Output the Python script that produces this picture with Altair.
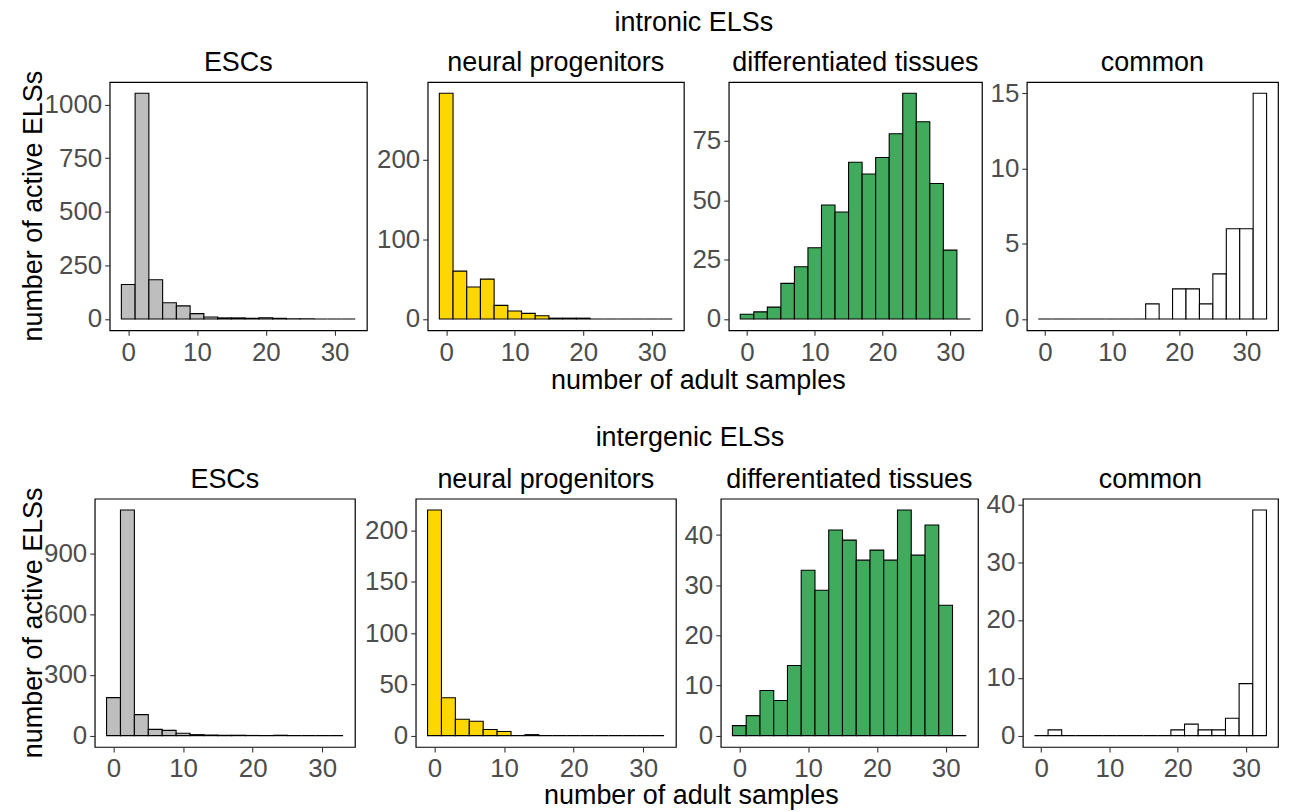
import altair as alt
import pandas as pd

# histogram bins (width 2)
bin_left = [-1, 1, 3, 5, 7, 9, 11, 13, 15, 17, 19, 21, 23, 25, 27, 29, 31]
bin_right = [1, 3, 5, 7, 9, 11, 13, 15, 17, 19, 21, 23, 25, 27, 29, 31, 33]

panel_titles = ["ESCs", "neural progenitors", "differentiated tissues", "common"]
panel_colors = ["#BEBEBE", "#FFD700", "#41AB5D", "#FFFFFF"]
row_titles = ["intronic ELSs", "intergenic ELSs"]
x_title = "number of adult samples"
y_title = "number of active ELSs"

intronic_esc = [161, 1053, 183, 76, 61, 25, 9, 5, 5, 3, 6, 3, 1, 1, 0, 0, 0]
intronic_np = [283, 60, 40, 50, 17, 10, 7, 4, 1, 1, 1, 0, 0, 0, 0, 0, 0]
intronic_dt = [2, 3, 5, 15, 22, 30, 48, 45, 66, 61, 68, 78, 95, 83, 57, 29, 0]
intronic_common = [0, 0, 0, 0, 0, 0, 0, 0, 1, 0, 2, 2, 1, 3, 6, 6, 15]

intergenic_esc = [188, 1116, 104, 31, 26, 12, 5, 3, 2, 2, 1, 0, 2, 0, 0, 0, 0]
intergenic_np = [220, 37, 16, 14, 6, 4, 0, 1, 0, 0, 0, 0, 0, 0, 0, 0, 0]
intergenic_dt = [2, 4, 9, 7, 14, 33, 29, 41, 39, 35, 37, 35, 45, 36, 42, 26, 0]
intergenic_common = [0, 1, 0, 0, 0, 0, 0, 0, 0, 0, 1, 2, 1, 1, 3, 9, 39]

intronic_ticks = [[0, 250, 500, 750, 1000], [0, 100, 200], [0, 25, 50, 75], [0, 5, 10, 15]]
intergenic_ticks = [[0, 300, 600, 900], [0, 50, 100, 150, 200], [0, 10, 20, 30, 40], [0, 10, 20, 30, 40]]
x_ticks = [0, 10, 20, 30]

FONT = "Liberation Sans"
H = 249


def panel(counts, color, title, yticks, width, title_offset, xtitle_x=None, xtitle_y=57):
    df = pd.DataFrame({"x0": bin_left, "x1": bin_right, "n": counts})
    m = max(counts)
    xaxis_kw = dict(values=x_ticks, labelPadding=4, tickSize=5, grid=False, domain=False,
                    labelOverlap=False, labelFlush=False, format="d")
    if xtitle_x is not None:
        xaxis_kw.update(title=x_title, titleX=xtitle_x, titleY=xtitle_y,
                        titleAlign="center", titleBaseline="alphabetic")
    else:
        xaxis_kw.update(title="")
    return (
        alt.Chart(df)
        .mark_rect(fill=color, stroke="black", strokeWidth=1.1)
        .encode(
            x=alt.X("x0:Q", scale=alt.Scale(domain=[-2.7, 34.7], nice=False, zero=False),
                    axis=alt.Axis(**xaxis_kw)),
            x2="x1:Q",
            y=alt.Y("n:Q", scale=alt.Scale(domain=[-0.05 * m, 1.05 * m], nice=False, zero=False),
                    axis=alt.Axis(values=yticks, labelPadding=3, tickSize=5, grid=False,
                                  domain=False, labelOverlap=False, format="d", title="")),
            y2=alt.datum(0),
        )
        .properties(
            width=width,
            height=H,
            view=alt.ViewBackground(stroke="black", strokeWidth=1.2),
            title=alt.TitleParams(title, fontSize=27, font=FONT, color="black",
                                  fontWeight="normal", anchor="middle", offset=title_offset),
        )
    )


def spacer(w, title=None):
    c = (
        alt.Chart(pd.DataFrame({"a": [0]}))
        .mark_point(opacity=0, size=0)
        .encode(x=alt.value(w / 2), y=alt.value(H / 2))
    )
    if title is not None:
        return c.properties(width=w, height=H, view=alt.ViewBackground(strokeOpacity=0),
                            title=title)
    return c.properties(width=w, height=H, view=alt.ViewBackground(strokeOpacity=0))


def make_row(data, ticks, widths, offsets, title, lead, xtitle_x, xtitle_y, dx, toff):
    ps = [panel(data[i], panel_colors[i], panel_titles[i], ticks[i], widths[i], offsets[i],
                xtitle_x=xtitle_x if i == 1 else None, xtitle_y=xtitle_y)
          for i in range(4)]
    lead_sp = spacer(lead, alt.TitleParams(y_title, orient="left", anchor="middle",
                                           fontSize=27, font=FONT, color="black",
                                           fontWeight="normal", offset=19))
    mid_sp = spacer(45, alt.TitleParams(title, orient="top", anchor="middle", dx=dx,
                                        fontSize=27, font=FONT, color="black",
                                        fontWeight="normal", offset=toff))
    return alt.hconcat(lead_sp, ps[0], spacer(61), ps[1], mid_sp, ps[2], spacer(45), ps[3],
                       spacing=0, bounds="flush")


row1 = make_row([intronic_esc, intronic_np, intronic_dt, intronic_common], intronic_ticks,
                [258, 257, 254, 252], [5, 5, 5, 3.3], row_titles[0], lead=43,
                xtitle_x=271, xtitle_y=58, dx=-12.5, toff=45)
row2 = make_row([intergenic_esc, intergenic_np, intergenic_dt, intergenic_common],
                intergenic_ticks, [261, 261, 258, 256], [5, 5, 5, -2.5], row_titles[1], lead=28,
                xtitle_x=276, xtitle_y=57, dx=-8.5, toff=47)

chart = (
    alt.vconcat(row1, row2, spacing=30)
    .properties(padding={"left": 11, "top": 0, "right": 5, "bottom": 0}, background="white")
    .configure_view(stroke="black", strokeWidth=1.2)
    .configure_axis(
        labelFont=FONT, labelFontSize=26, labelColor="#4D4D4D",
        tickColor="#333333", tickWidth=1.1,
        titleFont=FONT, titleFontSize=27, titleColor="black", titleFontWeight="normal",
    )
)

chart.save("out.html", embed_options={"renderer": "svg", "actions": False})
